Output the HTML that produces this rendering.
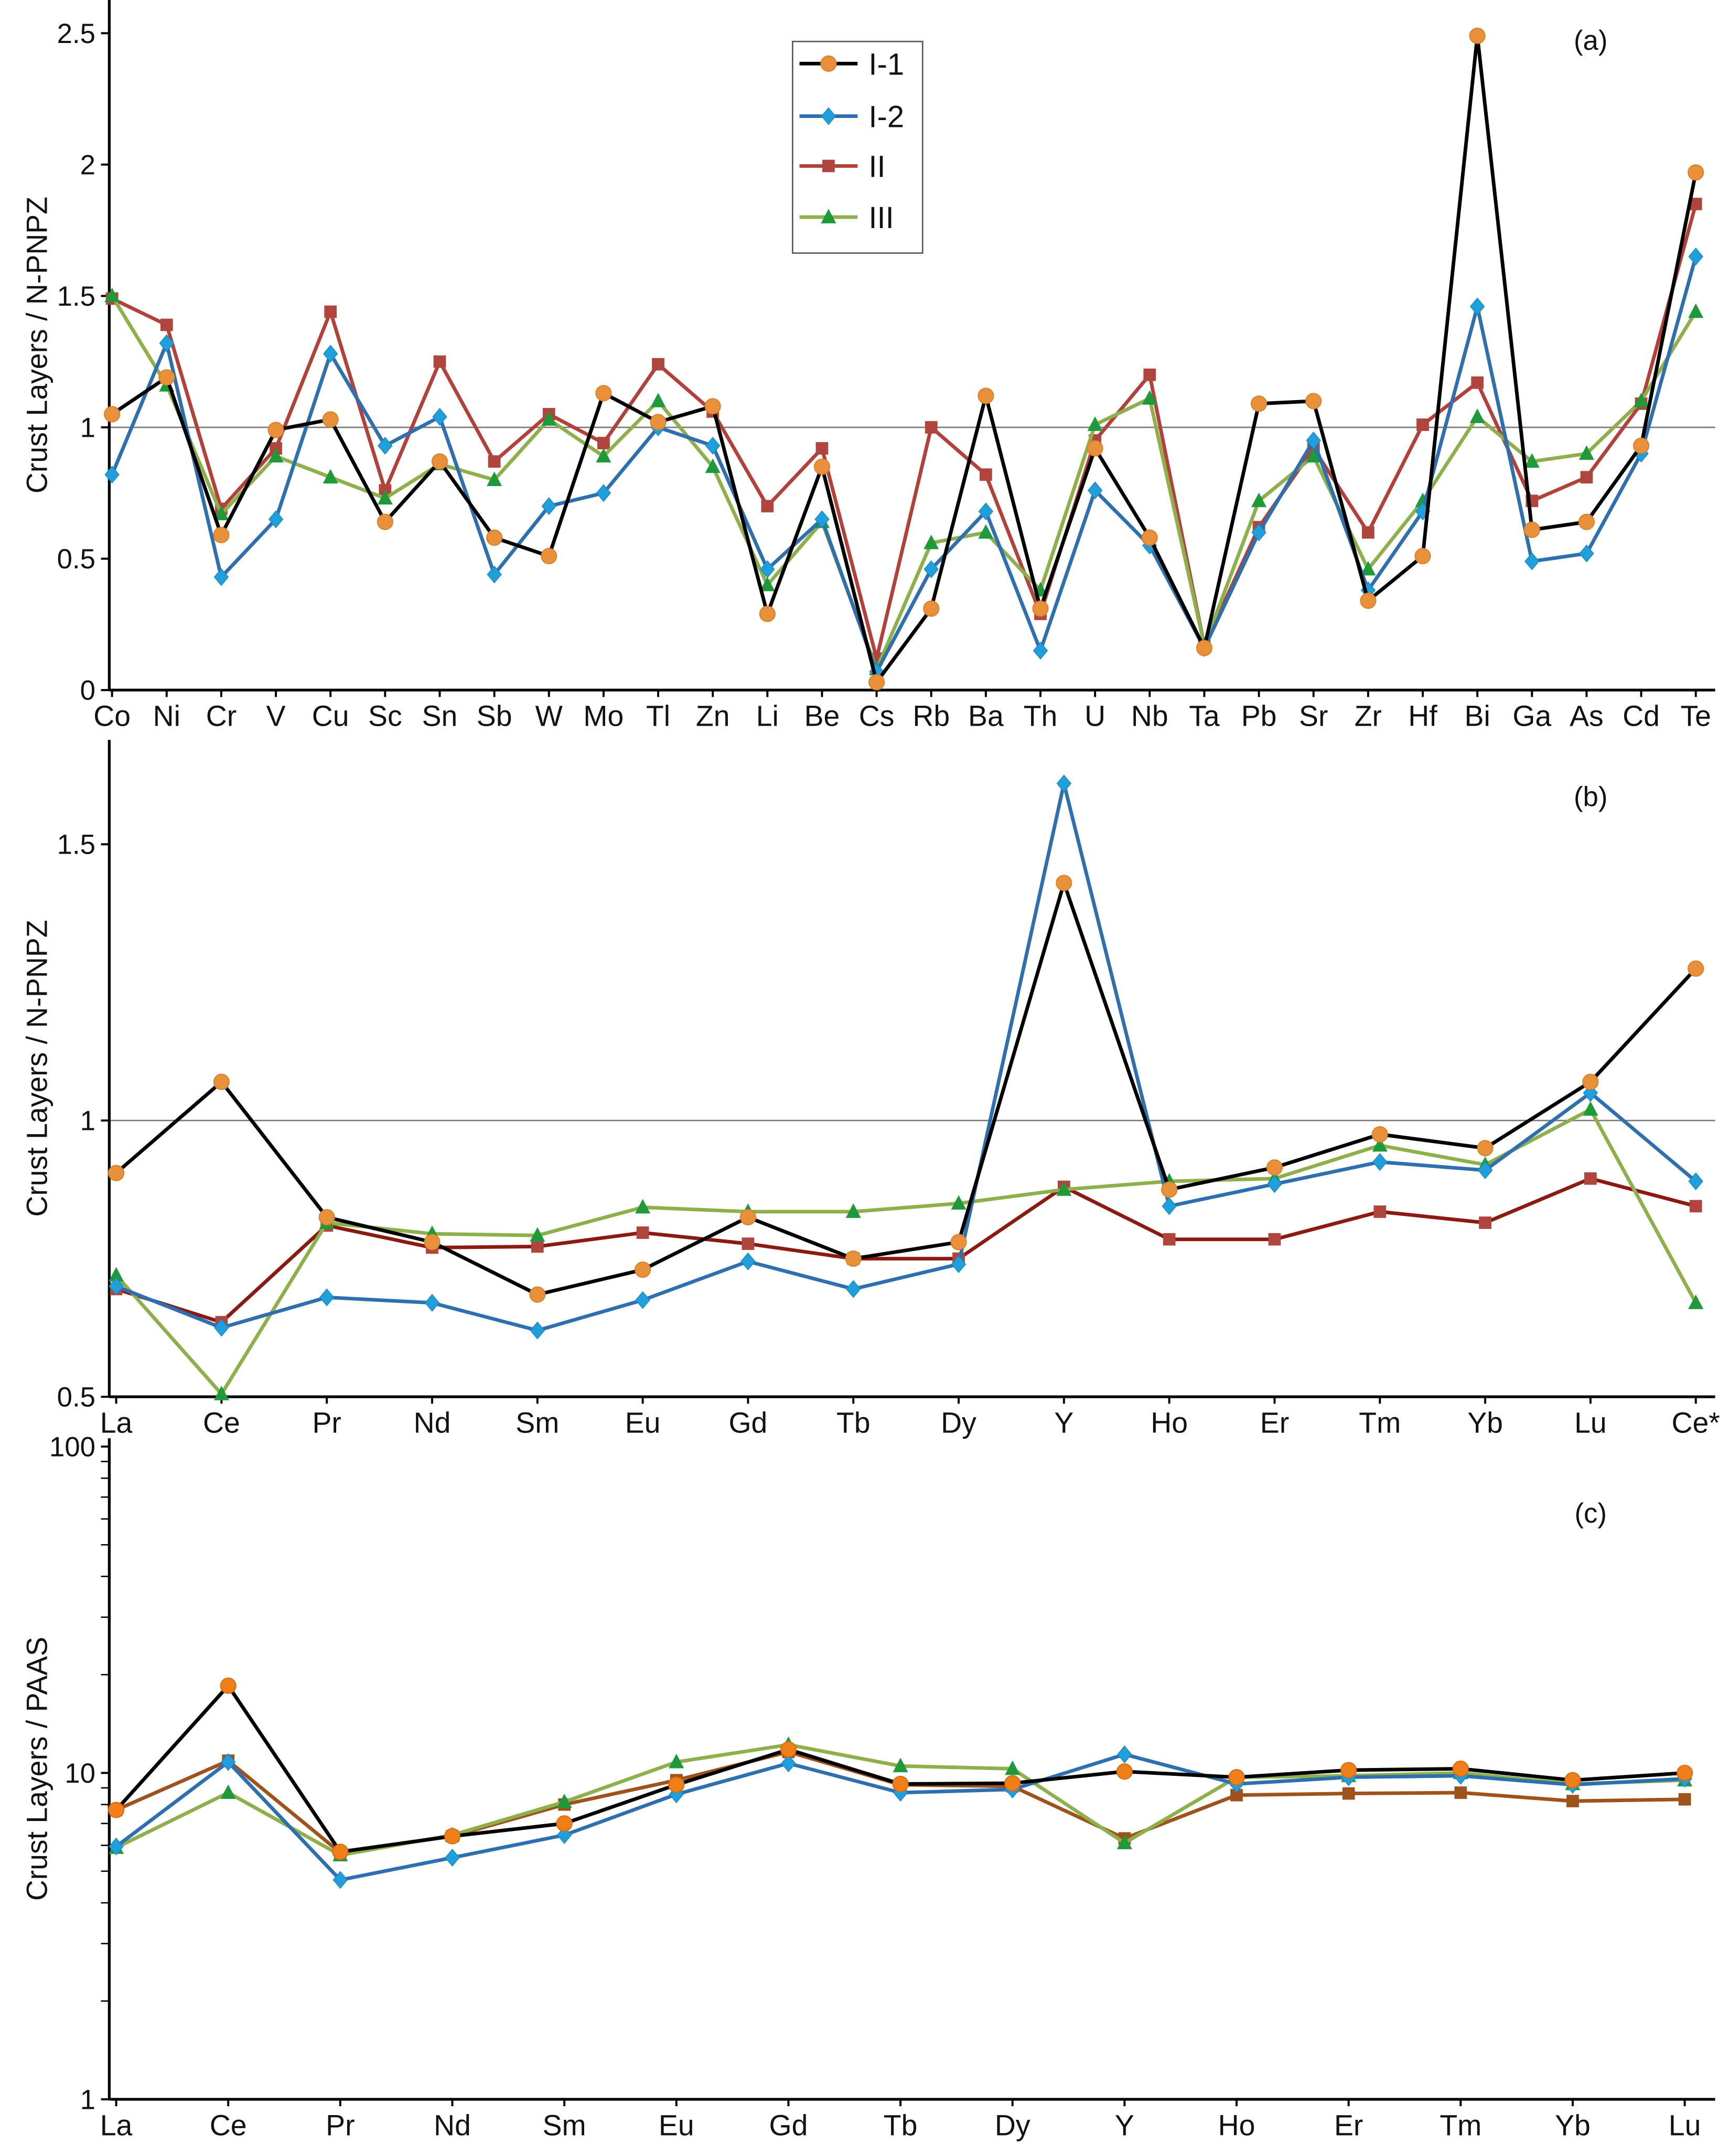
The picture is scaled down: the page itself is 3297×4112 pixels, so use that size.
<!DOCTYPE html>
<html><head><meta charset="utf-8"><style>
html,body{margin:0;padding:0;background:#fff}
svg{display:block}
text{font-family:"Liberation Sans",sans-serif;fill:#111}
</style></head><body>
<svg id="chart" width="3297" height="4112" viewBox="0 0 1250 1559" xmlns="http://www.w3.org/2000/svg">
<rect width="1250" height="1559" fill="#fff"/>
<g id="legend"></g>
</svg>
<script>
const catsA=["Co","Ni","Cr","V","Cu","Sc","Sn","Sb","W","Mo","Tl","Zn","Li","Be","Cs","Rb","Ba","Th","U","Nb","Ta","Pb","Sr","Zr","Hf","Bi","Ga","As","Cd","Te"];
const a_I1=[1.05,1.19,0.59,0.99,1.03,0.64,0.87,0.58,0.51,1.13,1.02,1.08,0.29,0.85,0.03,0.31,1.12,0.31,0.92,0.58,0.16,1.09,1.10,0.34,0.51,2.49,0.61,0.64,0.93,1.97];
const a_I2=[0.82,1.32,0.43,0.65,1.28,0.93,1.04,0.44,0.70,0.75,1.00,0.93,0.46,0.65,0.07,0.46,0.68,0.15,0.76,0.55,0.16,0.60,0.95,0.38,0.68,1.46,0.49,0.52,0.90,1.65];
const a_II=[1.49,1.39,0.69,0.92,1.44,0.76,1.25,0.87,1.05,0.94,1.24,1.06,0.70,0.92,0.12,1.00,0.82,0.29,0.95,1.20,0.17,0.62,0.92,0.60,1.01,1.17,0.72,0.81,1.09,1.85];
const a_III=[1.50,1.16,0.67,0.89,0.81,0.73,0.86,0.80,1.03,0.89,1.10,0.85,0.40,0.64,0.08,0.56,0.60,0.38,1.01,1.11,0.17,0.72,0.89,0.46,0.72,1.04,0.87,0.90,1.10,1.44];
const ticksA=[0,0.5,1,1.5,2,2.5];
const catsB=["La","Ce","Pr","Nd","Sm","Eu","Gd","Tb","Dy","Y","Ho","Er","Tm","Yb","Lu","Ce*"];
const b_I1=[0.905,1.07,0.825,0.78,0.685,0.73,0.825,0.75,0.78,1.43,0.875,0.915,0.975,0.95,1.07,1.275];
const b_I2=[0.70,0.625,0.68,0.67,0.62,0.675,0.745,0.695,0.74,1.61,0.845,0.885,0.925,0.91,1.05,0.89];
const b_II=[0.695,0.635,0.81,0.77,0.772,0.797,0.777,0.75,0.75,0.88,0.785,0.785,0.835,0.815,0.895,0.845];
const b_III=[0.72,0.505,0.815,0.795,0.792,0.843,0.835,0.835,0.85,0.875,0.89,0.895,0.955,0.92,1.02,0.67];
const ticksB=[0.5,1,1.5];
const catsC=["La","Ce","Pr","Nd","Sm","Eu","Gd","Tb","Dy","Y","Ho","Er","Tm","Yb","Lu"];
const c_I1=[7.7,18.5,5.73,6.4,7.0,9.2,11.8,9.25,9.3,10.1,9.7,10.2,10.3,9.5,10.0];
const c_I2=[5.95,10.8,4.7,5.5,6.45,8.6,10.7,8.7,8.9,11.4,9.25,9.7,9.8,9.2,9.6];
const c_II=[7.7,10.9,5.7,6.4,8.0,9.5,11.6,9.2,9.1,6.3,8.55,8.65,8.7,8.2,8.3];
const c_III=[5.9,8.7,5.6,6.45,8.15,10.8,12.2,10.5,10.3,6.1,9.7,9.8,10.0,9.25,9.5];
const ticksC=[1,10,100];

const NS="http://www.w3.org/2000/svg";
const svg=document.getElementById('chart');
function el(tag,attrs,parent){const e=document.createElementNS(NS,tag);for(const k in attrs)e.setAttribute(k,attrs[k]);(parent||svg).appendChild(e);return e;}

const styles={
 I1:{line:"#000",mfill:"#e8913a",mstroke:"#d9822b",shape:"circle"},
 I2:{line:"#2e6fb0",mfill:"#1fa0dc",mstroke:"#1a8cc4",shape:"diamond"},
 II:{line:"#b3413a",mfill:"#b0453d",mstroke:"#9e3a33",shape:"square"},
 III:{line:"#8db04a",mfill:"#1e9a3a",mstroke:"#1a8a33",shape:"triangle"}
};
function marker(g,shape,x,y,st,name){
 let m;
 if(shape==="circle")m=el('circle',{cx:x,cy:y,r:5.5,fill:st.mfill,stroke:st.mstroke,'stroke-width':0.8},g);
 else if(shape==="diamond")m=el('polygon',{points:`${x},${y-6} ${x+5},${y} ${x},${y+6} ${x-5},${y}`,fill:st.mfill,stroke:st.mstroke,'stroke-width':0.6},g);
 else if(shape==="square")m=el('rect',{x:x-4.5,y:y-4.5,width:9,height:9,fill:st.mfill},g);
 else m=el('polygon',{points:`${x},${y-6} ${x+5.5},${y+4.5} ${x-5.5},${y+4.5}`,fill:st.mfill},g);
 
 
}
function series(panel,key,vals,xf,yf,order,lineColor){
 const st=Object.assign({},styles[key]);if(lineColor)st.line=lineColor;
 const g=el('g',{});
 
 
 const pts=vals.map((v,i)=>xf(i)+","+yf(v)).join(" ");
 const pl=el('polyline',{points:pts,fill:'none',stroke:st.line,'stroke-width':2.6,'stroke-linejoin':'round'},g);
 
 
 vals.forEach((v,i)=>marker(g,st.shape,xf(i),yf(v),st,panel+'-point-'+key.toLowerCase()));
}
function axes(panel,x0,x1,yTop,yBot,cats,xf,ticks,yf,fmt,title,label,labelY,refY){
 const g=el('g',{});
 
 
 if(refY!==undefined){const r=el('line',{x1:x0,x2:x1,y1:refY,y2:refY,stroke:'#777','stroke-width':1},g);
  }
 el('line',{x1:x0,x2:x0,y1:yTop,y2:yBot,stroke:'#000','stroke-width':2},g);
 el('line',{x1:x0,x2:x1,y1:yBot,y2:yBot,stroke:'#000','stroke-width':2},g);
 ticks.forEach(t=>{const y=yf(t);el('line',{x1:x0-6,x2:x0,y1:y,y2:y,stroke:'#000','stroke-width':1.5},g);
  const tx=el('text',{x:x0-10,y:y+7,'text-anchor':'end','font-size':20},g);tx.textContent=fmt(t);
  });
 cats.forEach((c,i)=>{const x=xf(i);el('line',{x1:x,x2:x,y1:yBot,y2:yBot+5,stroke:'#000','stroke-width':1.5},g);
  const tx=el('text',{x:x,y:yBot+26,'text-anchor':'middle','font-size':21},g);tx.textContent=c;
  });
 const cy=(yTop+yBot)/2;
 const tt=el('text',{x:34,y:cy,'text-anchor':'middle','font-size':21,transform:`rotate(-90 34 ${cy})`},g);tt.textContent=title;
 
 const pl=el('text',{x:1150,y:labelY,'text-anchor':'middle','font-size':20},g);pl.textContent=label;
 
 return g;
}
// Panel a
const xa=i=>81+i*(1226-81)/(catsA.length-1);
const ya=v=>499-v*190;
const ga=axes('panel-a',79,1240,0,499,catsA,xa,ticksA,ya,t=>String(t),'Crust Layers / N-PNPZ','(a)',36,ya(1));
series('panel-a','II',a_II,xa,ya);
series('panel-a','III',a_III,xa,ya);
series('panel-a','I2',a_I2,xa,ya);
series('panel-a','I1',a_I1,xa,ya);
// Panel b
const xb=i=>84+i*(1226-84)/(catsB.length-1);
const yb=v=>1010-(v-0.5)*399.5;
axes('panel-b',79,1240,535,1010,catsB,xb,ticksB,yb,t=>String(t),'Crust Layers / N-PNPZ','(b)',583,yb(1));
series('panel-b','II',b_II,xb,yb,null,'#8b1a10');
series('panel-b','III',b_III,xb,yb);
series('panel-b','I2',b_I2,xb,yb);
series('panel-b','I1',b_I1,xb,yb);
// Panel c
const xc=i=>84+i*(1218-84)/(catsC.length-1);
const yc=v=>1282-(Math.log10(v)-1)*236;
const gc=axes('panel-c',79,1240,1040,1518,catsC,xc,ticksC,yc,t=>String(t),'Crust Layers / PAAS','(c)',1101);
for(let d=1;d<100;d*=10)for(let k=2;k<10;k++){const y=yc(d*k);el('line',{x1:73,x2:79,y1:y,y2:y,stroke:'#000','stroke-width':1},gc);}
const stII_c={line:"#a0521d",mfill:"#a0521d"};
styles.IIc={line:"#a0521d",mfill:"#a0521d",mstroke:"#8a4416",shape:"square"};
series('panel-c','IIc',c_II,xc,yc);
series('panel-c','III',c_III,xc,yc);
series('panel-c','I2',c_I2,xc,yc);
styles.I1c={line:"#000",mfill:"#f07f1a",mstroke:"#d86c10",shape:"circle"};
series('panel-c','I1c',c_I1,xc,yc);
// Legend
const lg=document.getElementById('legend');
svg.appendChild(lg);
el('rect',{x:573,y:30,width:94,height:153,fill:'#fff',stroke:'#555','stroke-width':1},lg);
const legItems=[["I1","I-1",46],["I2","I-2",84],["II","II",120],["III","III",157]];
legItems.forEach(([k,lab,y])=>{
 const g=el('g',{},lg);
 
 
 el('line',{x1:578,x2:620,y1:y,y2:y,stroke:styles[k].line,'stroke-width':2.6},g);
 marker(g,styles[k].shape,599,y,styles[k],'legend-marker');
 const t=el('text',{x:628,y:y+8,'font-size':22},g);t.textContent=lab;
});
</script>
</body></html>
